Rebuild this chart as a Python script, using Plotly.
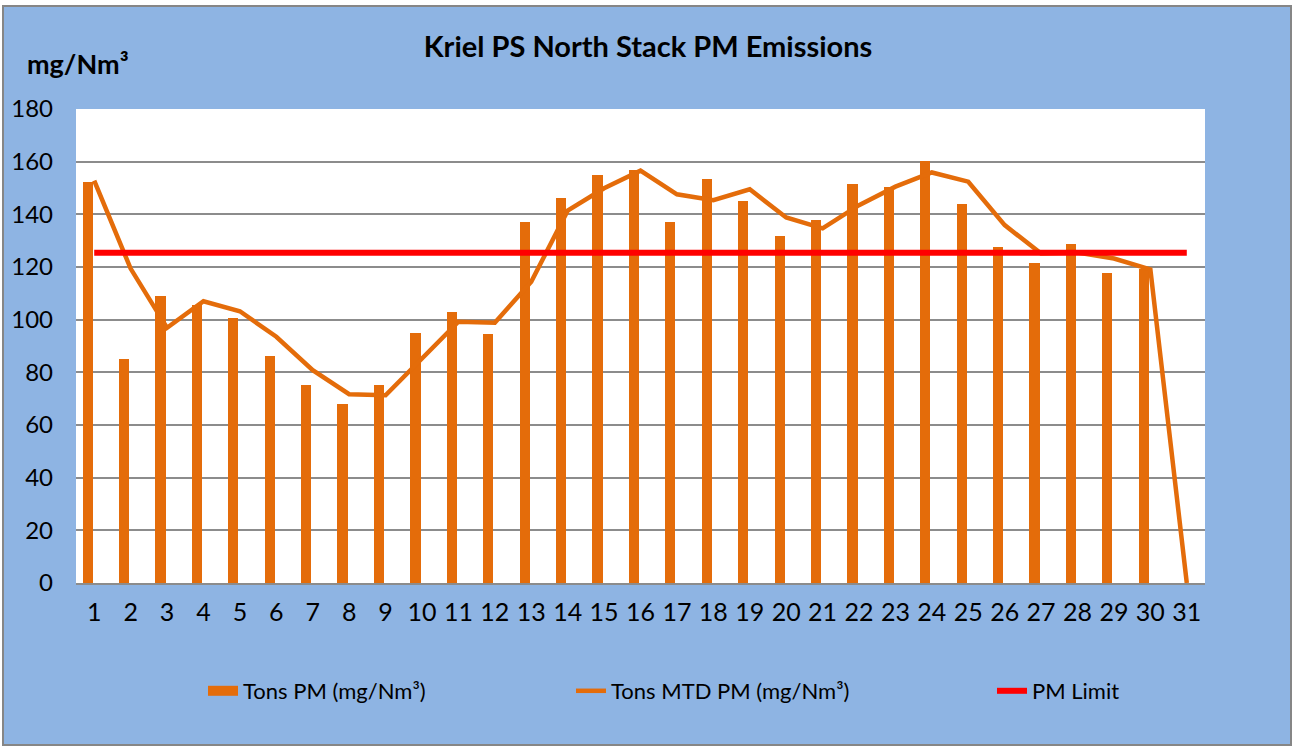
import plotly.graph_objects as go

days = list(range(1, 32))
tons_pm = [152.4, 85.0, 108.9, 105.5, 100.7, 86.1, 75.3, 68.0, 75.1, 95.0,
           102.8, 94.5, 137.2, 146.1, 155.1, 156.8, 137.2, 153.3, 145.2, 131.6,
           137.8, 151.4, 150.5, 160.4, 143.9, 127.7, 121.6, 128.7, 117.8, 119.1, 0]
tons_mtd_pm = [152.8, 119.4, 96.9, 107.0, 103.2, 93.5, 80.8, 71.7, 71.3, 85.5,
               99.2, 98.8, 114.4, 141.4, 149.9, 156.6, 147.6, 145.4, 149.5, 138.8,
               134.7, 143.5, 150.5, 155.9, 152.4, 135.9, 125.1, 125.5, 123.2, 119.1, 0]
pm_limit = [125.4] * 31
y_ticks = [0, 20, 40, 60, 80, 100, 120, 140, 160, 180]

ORANGE = "#E46C0A"
RED = "#FF0000"
BLUE = "#8EB4E3"
FONT = "Lato"

# plot area in pixels
L, R, T, B = 76, 1205, 109, 583
W, H = 1298, 747
pw, ph = R - L, B - T


def px_x(p):
    return (p - L) / pw


def px_y(p):
    return (B - p) / ph


fig = go.Figure()
fig.add_trace(go.Bar(x=days, y=tons_pm, name="Tons PM (mg/Nm³)", width=0.28, offset=-0.32,
                     marker=dict(color=ORANGE, line=dict(width=0)), showlegend=False,
                     legendgroup="bars"))
fig.add_trace(go.Scatter(x=[None], y=[None], mode="lines", name="Tons PM (mg/Nm³)",
                         line=dict(color=ORANGE, width=14), legend="legend",
                         legendgroup="bars"))
fig.add_trace(go.Scatter(x=days, y=tons_mtd_pm, mode="lines", name="Tons MTD PM (mg/Nm³)",
                         line=dict(color=ORANGE, width=4.5), legend="legend2"))
fig.add_trace(go.Scatter(x=days, y=pm_limit, mode="lines", name="PM Limit",
                         line=dict(color=RED, width=6), legend="legend3"))

shapes = [
    dict(type="rect", xref="paper", yref="paper", layer="below",
         x0=px_x(3), x1=px_x(1291), y0=px_y(745), y1=px_y(6),
         fillcolor=BLUE, line=dict(color="#868686", width=2)),
    dict(type="rect", xref="paper", yref="paper", layer="below",
         x0=0, x1=1, y0=0, y1=1, fillcolor="white", line=dict(width=0)),
]

leg_common = dict(orientation="h", yanchor="middle", xanchor="left",
                  font=dict(family=FONT, size=22, color="black"),
                  bgcolor="rgba(0,0,0,0)", y=px_y(691))

fig.update_layout(
    width=W, height=H,
    margin=dict(l=L, r=W - R, t=T, b=H - B, pad=0, autoexpand=False),
    paper_bgcolor="white",
    plot_bgcolor="white",
    shapes=shapes,
    title=dict(text="<b>Kriel PS North Stack PM Emissions</b>", x=648 / W, xanchor="center",
               y=1 - 47 / H, yanchor="middle",
               font=dict(family=FONT, size=29, color="black")),
    annotations=[dict(text="<b>mg/Nm³</b>", xref="paper", yref="paper",
                      x=px_x(25), y=px_y(63), xanchor="left", yanchor="middle",
                      showarrow=False, font=dict(family=FONT, size=27, color="black"))],
    xaxis=dict(range=[0.5, 31.5], tickmode="array", tickvals=days,
               ticktext=[str(d) for d in days], showgrid=False, zeroline=False,
               showline=True, linecolor="#8C8C8C", linewidth=2, ticks="",
               ticklabelstandoff=6, automargin=False,
               tickfont=dict(family=FONT, size=25, color="black")),
    yaxis=dict(range=[0, 180], tickmode="array", tickvals=y_ticks, showgrid=True,
               gridcolor="#8C8C8C", gridwidth=1.5, zeroline=False, showline=False,
               ticks="", ticklabelstandoff=22, automargin=False,
               tickfont=dict(family=FONT, size=24, color="black")),
    legend=dict(x=px_x(203), **leg_common),
    legend2=dict(x=px_x(571), **leg_common),
    legend3=dict(x=px_x(992), **leg_common),
    bargap=0,
)

fig.write_html("out.html", config={"displayModeBar": False},
               post_script="document.body.style.margin='0';document.body.style.overflow='hidden';")
